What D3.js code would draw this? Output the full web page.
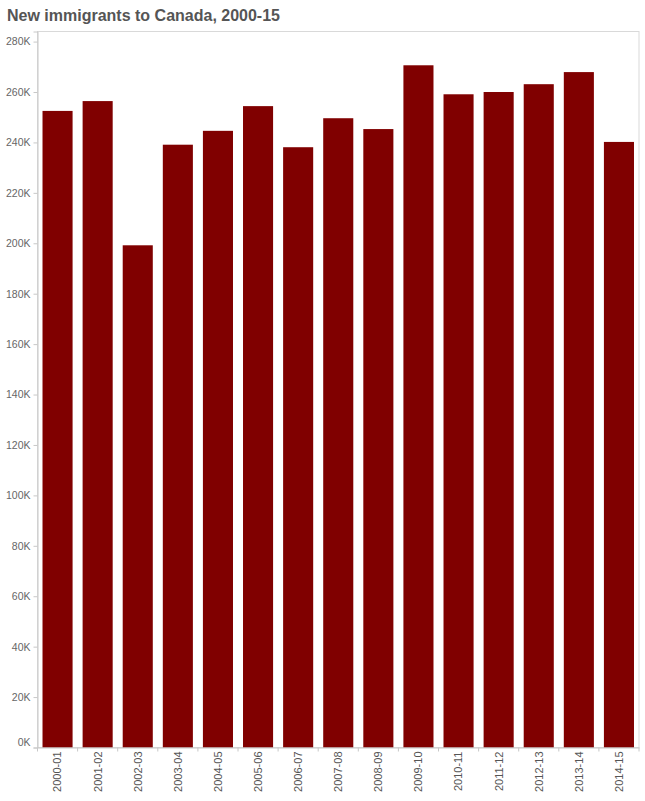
<!DOCTYPE html>
<html>
<head>
<meta charset="utf-8">
<script src="https://cdn.jsdelivr.net/npm/d3@7"></script>
<style>
  html, body { margin: 0; padding: 0; background: #fff; }
  svg { display: block; }
</style>
</head>
<body>
<svg id="chart" width="645" height="801"></svg>
<script>
const title = "New immigrants to Canada, 2000-15";
const categories = ["2000-01","2001-02","2002-03","2003-04","2004-05","2005-06","2006-07","2007-08","2008-09","2009-10","2010-11","2011-12","2012-13","2013-14","2014-15"];
const immigrants = [252500, 256400, 199200, 239100, 244600, 254400, 238100, 249600, 245300, 270600, 259100, 260000, 263100, 267900, 240200];
const yTicks = [0,20000,40000,60000,80000,100000,120000,140000,160000,180000,200000,220000,240000,260000,280000];
const yMax = 284000;

const svg = d3.select("#chart");
const pLeft = 37.5, pRight = 639, pTop = 31.5, pBottom = 747.5;

const x = d3.scaleBand().domain(categories).range([pLeft, pRight]).paddingInner(0.25).paddingOuter(0.125);
const y = d3.scaleLinear().domain([0, yMax]).range([pBottom, pTop]);

// title
svg.append("text")
  .attr("x", 7).attr("y", 21)
  .attr("font-family", "'Liberation Sans', Arial, sans-serif")
  .attr("font-weight", "bold")
  .attr("font-size", 16)
  .attr("fill", "#555")
  .text(title);

// frame
svg.append("rect")
  .attr("x", pLeft).attr("y", pTop)
  .attr("width", pRight - pLeft).attr("height", pBottom - pTop)
  .attr("fill", "none").attr("stroke", "#d9d9d9").attr("stroke-width", 1);

// bars
svg.append("g").selectAll("rect").data(categories).join("rect")
  .attr("x", d => x(d))
  .attr("y", (d, i) => y(immigrants[i]))
  .attr("width", x.bandwidth())
  .attr("height", (d, i) => y(0) - y(immigrants[i]))
  .attr("fill", "#800000");

// y axis
const yAxis = svg.append("g")
  .attr("transform", `translate(${pLeft},0)`)
  .call(d3.axisLeft(y).tickValues(yTicks).tickSize(4).tickPadding(3).tickFormat(d => (d / 1000) + "K"));
yAxis.select(".domain").attr("stroke", "#c8c8c8");
yAxis.selectAll(".tick line").attr("stroke", "#c8c8c8");
yAxis.selectAll(".tick text")
  .attr("fill", "#666")
  .attr("font-family", "'Liberation Sans', Arial, sans-serif")
  .attr("font-size", 10.5);
yAxis.selectAll(".tick").filter(d => d === 0).select("text").attr("dy", "-0.2em");

// x axis
const xAxis = svg.append("g")
  .attr("transform", `translate(0,${pBottom})`)
  .call(d3.axisBottom(x).tickSize(0).tickPadding(4));
xAxis.select(".domain").attr("stroke", "#c8c8c8");
xAxis.selectAll(".tick text")
  .attr("fill", "#555")
  .attr("font-family", "'Liberation Sans', Arial, sans-serif")
  .attr("font-size", 11)
  .attr("transform", "rotate(-90)")
  .attr("text-anchor", "end")
  .attr("x", -4)
  .attr("y", 0)
  .attr("dy", "0.35em");

// boundary ticks on x axis
const step = x.step();
const bounds = categories.map(d => x(d) - step * x.paddingInner() / 2);
bounds.push(x(categories[categories.length - 1]) + x.bandwidth() + step * x.paddingInner() / 2);
svg.append("g").selectAll("line").data(bounds).join("line")
  .attr("x1", d => d).attr("x2", d => d)
  .attr("y1", pBottom).attr("y2", pBottom + 4)
  .attr("stroke", "#c8c8c8");
</script>
</body>
</html>
